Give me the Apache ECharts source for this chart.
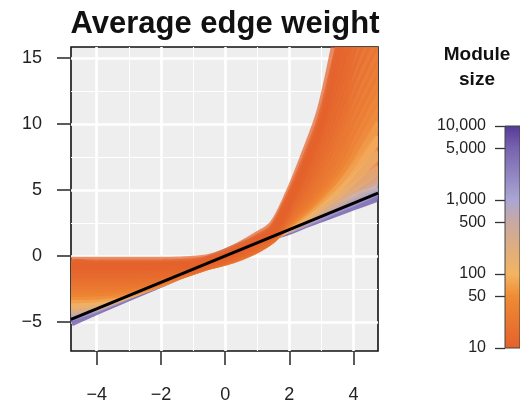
<!DOCTYPE html>
<html>
<head>
<meta charset="utf-8">
<script src="https://cdn.jsdelivr.net/npm/echarts@6/dist/echarts.min.js"></script>
<style>
  html, body { margin: 0; padding: 0; background: #fff; }
  #chart { width: 520px; height: 405px; }
</style>
</head>
<body>
<div id="chart"></div>
<script>
// Shared x positions of every module curve
const xs = [-4.8, -4, -3, -2, -1.5, -1, -0.5, 0, 0.5, 1, 1.5, 2, 2.5, 3, 3.5, 4, 4.8];

// Average edge weight per module, smallest modules first
const m01 = [-0.4, -0.4, -0.4, -0.4, -0.38, -0.33, -0.18, 0.22, 0.8, 1.5, 2.35, 4.7, 7.7, 11.1, 16.6, 22, 30];
const m02 = [-0.6, -0.6, -0.6, -0.6, -0.58, -0.5, -0.3, 0.1, 0.65, 1.3, 2.1, 4.4, 7.2, 10.4, 15.2, 20, 27];
const m03 = [-0.8, -0.8, -0.8, -0.79, -0.76, -0.65, -0.4, 0.0, 0.5, 1.15, 1.95, 4.2, 6.8, 9.8, 13.9, 18.5, 25];
const m04 = [-1.0, -1.0, -1.0, -0.98, -0.93, -0.8, -0.5, -0.1, 0.4, 1.0, 1.8, 4.0, 6.4, 9.2, 12.8, 17.2, 23];
const m05 = [-1.2, -1.2, -1.2, -1.17, -1.08, -0.9, -0.58, -0.2, 0.3, 0.9, 1.7, 3.8, 6.0, 8.6, 11.9, 16.0, 21];
const m06 = [-1.4, -1.4, -1.39, -1.33, -1.2, -0.98, -0.62, -0.25, 0.22, 0.8, 1.6, 3.6, 5.6, 8.0, 11.0, 14.8, 19.5];
const m07 = [-1.6, -1.6, -1.58, -1.48, -1.3, -1.02, -0.65, -0.3, 0.15, 0.72, 1.5, 3.4, 5.2, 7.4, 10.2, 13.7, 18];
const m08 = [-1.8, -1.8, -1.77, -1.62, -1.38, -1.05, -0.68, -0.35, 0.1, 0.65, 1.45, 3.2, 4.85, 6.8, 9.4, 12.6, 16.8];
const m09 = [-2.0, -2.0, -1.95, -1.74, -1.43, -1.08, -0.7, -0.38, 0.05, 0.6, 1.4, 3.0, 4.5, 6.3, 8.6, 11.6, 15.6];
const m10 = [-2.25, -2.24, -2.16, -1.84, -1.47, -1.1, -0.7, -0.4, 0.02, 0.58, 1.38, 2.9, 4.2, 5.8, 7.9, 10.6, 14.5];
const m11 = [-2.5, -2.48, -2.35, -1.92, -1.5, -1.1, -0.68, -0.4, 0.0, 0.55, 1.38, 2.75, 3.95, 5.4, 7.2, 9.7, 13.5];
const m12 = [-2.75, -2.72, -2.52, -1.98, -1.52, -1.08, -0.65, -0.35, 0.05, 0.6, 1.4, 2.6, 3.7, 5.0, 6.6, 8.8, 12.4];
const m13 = [-3.0, -2.95, -2.68, -2.02, -1.53, -1.06, -0.6, -0.3, 0.1, 0.65, 1.42, 2.5, 3.5, 4.7, 6.1, 8.0, 11.3];
const m14 = [-3.25, -3.17, -2.8, -2.02, -1.52, -1.03, -0.55, -0.2, 0.2, 0.75, 1.45, 2.4, 3.3, 4.4, 5.6, 7.2, 10.1];
const m15 = [-3.5, -3.38, -2.88, -2.0, -1.5, -1.0, -0.5, -0.1, 0.35, 0.85, 1.5, 2.3, 3.1, 4.1, 5.1, 6.5, 9.0];
const m16 = [-3.75, -3.56, -2.9, -1.96, -1.46, -0.96, -0.45, 0.0, 0.45, 0.95, 1.5, 2.2, 2.95, 3.8, 4.7, 5.8, 7.8];
const m17 = [-4.0, -3.72, -2.9, -1.92, -1.42, -0.92, -0.4, 0.08, 0.55, 1.05, 1.55, 2.15, 2.8, 3.55, 4.35, 5.2, 6.6];
const m18 = [-4.2, -3.82, -2.88, -1.9, -1.4, -0.88, -0.36, 0.15, 0.62, 1.1, 1.6, 2.1, 2.7, 3.35, 4.05, 4.75, 5.8];
const m19 = [-4.4, -3.88, -2.9, -1.9, -1.38, -0.85, -0.32, 0.2, 0.7, 1.18, 1.66, 2.1, 2.6, 3.2, 3.8, 4.4, 5.4];
const m20 = [-4.6, -3.95, -2.95, -1.93, -1.4, -0.86, -0.3, 0.22, 0.72, 1.2, 1.65, 2.05, 2.55, 3.05, 3.6, 4.1, 4.95];
const m21 = [-4.8, -4.02, -3.0, -1.98, -1.45, -0.9, -0.35, 0.18, 0.68, 1.15, 1.6, 2.0, 2.5, 2.95, 3.45, 3.95, 4.7];
const m22 = [-5.0, -4.12, -3.08, -2.05, -1.52, -0.98, -0.45, 0.08, 0.6, 1.08, 1.55, 1.95, 2.45, 2.9, 3.35, 3.8, 4.5];

// Number of genes in each module above
const moduleSizes = [10, 10, 11, 12, 13, 14, 16, 18, 20, 23, 27, 33, 45, 65, 95, 140, 220, 350, 600, 1200, 3000, 8000];

// Identity reference line
const refX = [-4.8, 4.76];
const refY = [-4.8, 4.76];

// Tick positions
const xMajor = [-4, -2, 0, 2, 4];
const xMinor = [-3, -1, 1, 3];
const yMajor = [-5, 0, 5, 10, 15];
const yMinor = [-2.5, 2.5, 7.5, 12.5];
const sizeTicks = [10, 50, 100, 500, 1000, 5000, 10000];

// Colour scale for module size (log scale)
const scaleSizes = [10, 50, 100, 200, 500, 1000, 5000, 10000];
const scaleColors = ['#e4612b', '#ef8b35', '#f3b461', '#e2ae7a', '#c8a9a3', '#aaa6d4', '#7763ae', '#563996'];

const curves = [m01, m02, m03, m04, m05, m06, m07, m08, m09, m10, m11, m12, m13, m14, m15, m16, m17, m18, m19, m20, m21, m22];

const FONT = '"Liberation Sans", Arial, Helvetica, sans-serif';
const LMIN = Math.log10(10), LMAX = Math.log10(10000);

function hexToRgb(h) {
  const n = parseInt(h.slice(1), 16);
  return [(n >> 16) & 255, (n >> 8) & 255, n & 255];
}
function sizeColor(size) {
  const l = Math.log10(size);
  for (let i = 0; i < scaleSizes.length - 1; i++) {
    const a = Math.log10(scaleSizes[i]), b = Math.log10(scaleSizes[i + 1]);
    if (l <= b || i === scaleSizes.length - 2) {
      const t = Math.max(0, Math.min(1, (l - a) / (b - a)));
      const c0 = hexToRgb(scaleColors[i]), c1 = hexToRgb(scaleColors[i + 1]);
      const c = c0.map((v, k) => Math.round(v + (c1[k] - v) * t));
      return 'rgb(' + c.join(',') + ')';
    }
  }
}
function fmtNum(v) { return (v < 0 ? '\u2212' : '') + Math.abs(v); }
function panelClip(params) {
  const cs = params.coordSys;
  return { type: 'rect', shape: { x: cs.x, y: cs.y, width: cs.width, height: cs.height } };
}

const chart = echarts.init(document.getElementById('chart'), null, { renderer: 'canvas' });

const series = [];

// Panel grid lines
const gridLines = [];
xMajor.forEach(v => gridLines.push({ xAxis: v, lineStyle: { width: 2.6 } }));
xMinor.forEach(v => gridLines.push({ xAxis: v, lineStyle: { width: 1.1 } }));
yMajor.forEach(v => gridLines.push({ yAxis: v, lineStyle: { width: 2.6 } }));
yMinor.forEach(v => gridLines.push({ yAxis: v, lineStyle: { width: 1.1 } }));
series.push({
  type: 'line', xAxisIndex: 0, yAxisIndex: 0, z: 1,
  data: refX.map((x, i) => [x, refY[i]]),
  showSymbol: false, lineStyle: { opacity: 0 }, silent: true,
  markLine: {
    z: 1, silent: true, symbol: 'none', label: { show: false },
    lineStyle: { color: '#ffffff', type: 'solid' },
    data: gridLines
  }
});

// Filled envelope under the module curves (between the lowest orange and the top curve)
const lowEdge = m18;
const highEdge = m01;
series.push({
  type: 'custom', xAxisIndex: 0, yAxisIndex: 0, z: 2,
  data: [[0]],
  renderItem: function (params, api) {
    const top = xs.map((x, i) => api.coord([x, highEdge[i]]));
    const bot = xs.map((x, i) => api.coord([x, lowEdge[i]])).reverse();
    return {
      type: 'group', clipPath: panelClip(params),
      children: [{
        type: 'polygon',
        shape: { points: top.concat(bot), smooth: 0.3 },
        style: { fill: '#ee8640', opacity: 0.9 }
      }]
    };
  },
  silent: true
});

// Module curves, largest modules drawn first so small ones lie on top
const drawOrder = curves.map((c, k) => [curves.length - 1 - k]);
series.push({
  type: 'custom', xAxisIndex: 0, yAxisIndex: 0, z: 3,
  data: drawOrder,
  renderItem: function (params, api) {
    const k = api.value(0);
    const ys = curves[k];
    const pts = xs.map((x, i) => api.coord([x, ys[i]]));
    return {
      type: 'group', clipPath: panelClip(params),
      children: [{
        type: 'polyline',
        shape: { points: pts, smooth: 0.35 },
        style: { stroke: sizeColor(moduleSizes[k]), lineWidth: 9, opacity: 0.7, fill: null, lineJoin: 'round' }
      }]
    };
  },
  silent: true
});

// y = x
series.push({
  type: 'line', xAxisIndex: 0, yAxisIndex: 0, z: 5,
  data: refX.map((x, i) => [x, refY[i]]), showSymbol: false,
  lineStyle: { color: '#000', width: 3 }, silent: true
});

// Colour bar for module size
series.push({
  type: 'custom', xAxisIndex: 1, yAxisIndex: 1, z: 2,
  data: [[0, LMIN, 1, LMAX]],
  renderItem: function (params, api) {
    const p0 = api.coord([api.value(0), api.value(3)]);
    const p1 = api.coord([api.value(2), api.value(1)]);
    const stops = scaleSizes.map((s, i) => ({
      offset: 1 - (Math.log10(s) - LMIN) / (LMAX - LMIN),
      color: scaleColors[i]
    })).reverse();
    return {
      type: 'rect',
      shape: { x: p0[0], y: p0[1], width: p1[0] - p0[0], height: p1[1] - p0[1] },
      style: {
        fill: new echarts.graphic.LinearGradient(0, 0, 0, 1, stops),
        stroke: '#444', lineWidth: 1
      }
    };
  }
});

const option = {
  animation: false,
  backgroundColor: '#ffffff',
  grid: [
    { left: 71, top: 47, width: 307, height: 304, show: true, backgroundColor: '#eeeeee', borderColor: '#111', borderWidth: 1.6, z: 0 },
    { left: 505, top: 126, width: 22, height: 222, show: false }
  ],
  xAxis: [
    {
      type: 'value', gridIndex: 0, min: -4.8, max: 4.76,
      axisLine: { show: false, onZero: false }, splitLine: { show: false },
      axisTick: { show: true, customValues: xMajor, length: 14, lineStyle: { color: '#333', width: 1.6 } },
      axisLabel: { customValues: xMajor, formatter: fmtNum, fontSize: 18, color: '#222', fontFamily: FONT, margin: 35 }
    },
    { type: 'value', gridIndex: 1, min: 0, max: 1, show: false }
  ],
  yAxis: [
    {
      type: 'value', gridIndex: 0, min: -7.2, max: 15.83,
      axisLine: { show: false, onZero: false }, splitLine: { show: false },
      axisTick: { show: true, customValues: yMajor, length: 14, lineStyle: { color: '#333', width: 1.6 } },
      axisLabel: { customValues: yMajor, formatter: fmtNum, fontSize: 18, color: '#222', fontFamily: FONT, margin: 29 }
    },
    {
      type: 'value', gridIndex: 1, min: LMIN, max: LMAX,
      axisLine: { show: false, onZero: false }, splitLine: { show: false },
      axisTick: { show: true, customValues: sizeTicks.map(s => Math.log10(s)), length: 10, lineStyle: { color: '#333', width: 1.3 } },
      axisLabel: {
        customValues: sizeTicks.map(s => Math.log10(s)),
        formatter: v => Math.round(Math.pow(10, v)).toLocaleString('en-US'),
        fontSize: 16, color: '#222', fontFamily: FONT, margin: 19
      }
    }
  ],
  graphic: [
    { type: 'text', x: 225, y: 24, style: { text: 'Average edge weight', font: 'bold 31px ' + FONT, fill: '#111', textAlign: 'center', textVerticalAlign: 'middle' } },
    { type: 'text', x: 477, y: 55, style: { text: 'Module', font: 'bold 19px ' + FONT, fill: '#111', textAlign: 'center', textVerticalAlign: 'middle' } },
    { type: 'text', x: 477, y: 80, style: { text: 'size', font: 'bold 19px ' + FONT, fill: '#111', textAlign: 'center', textVerticalAlign: 'middle' } }
  ],
  series: series
};

chart.setOption(option);
</script>
</body>
</html>
